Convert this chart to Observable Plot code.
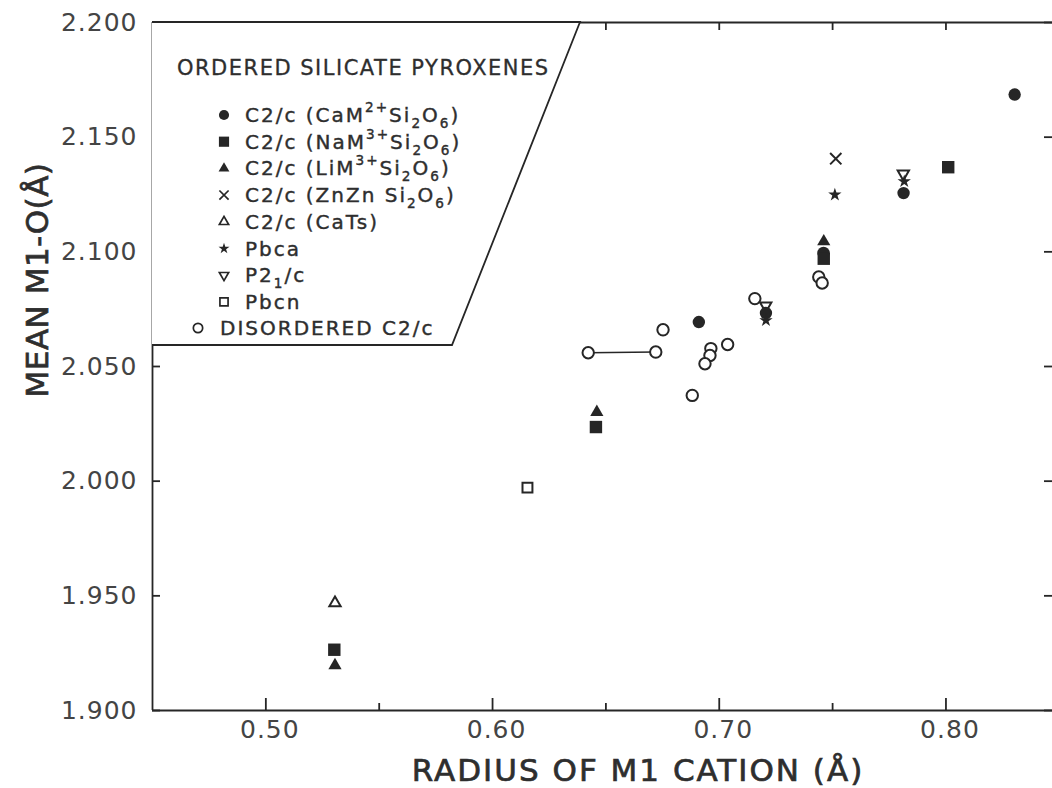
<!DOCTYPE html>
<html><head><meta charset="utf-8">
<script src="https://cdn.jsdelivr.net/npm/d3@7"></script>
<script src="https://cdn.jsdelivr.net/npm/@observablehq/plot@0.6"></script>
<style>
html,body{margin:0;padding:0;background:#fff;overflow:hidden;}
#chart svg{display:block;}
#chart [aria-label="x-axis tick label"] text{letter-spacing:1px;}
#chart [aria-label="y-axis tick label"] text{letter-spacing:1px;}
</style></head><body><div id="chart"></div>
<script>
// ---- axes ----
const xDomain = [0.45, 0.847];
const yDomain = [1.9, 2.2];
const xTickLabels = [0.50, 0.60, 0.70, 0.80];
const xTicksMinor = [0.55, 0.65, 0.75];
const xTicksAll = [0.50, 0.55, 0.60, 0.65, 0.70, 0.75, 0.80];
const yTickLabels = [1.900, 1.950, 2.000, 2.050, 2.100, 2.150, 2.200];
const xTitle = "RADIUS OF M1 CATION (Å)";
const yTitle = "MEAN M1-O(Å)";

// ---- series: [radius, mean M1-O] ----
const caM2Si2O6 = [[0.691,2.0694],[0.7206,2.0733],[0.746,2.0995],[0.7813,2.1256],[0.8303,2.1686]];
const naM3Si2O6 = [[0.5302,1.9265],[0.6456,2.0236],[0.7461,2.0970],[0.801,2.1369]];
const liM3Si2O6 = [[0.5305,1.9197],[0.646,2.0301],[0.7461,2.1045]];
const znZnSi2O6 = [[0.7514,2.1406]];
const caTs = [[0.5305,1.9469]];
const pbca = [[0.751,2.1249],[0.7816,2.1307],[0.7206,2.0701]];
const p21c = [[0.7812,2.1340],[0.7205,2.0765]];
const pbcn = [[0.6154,1.9972]];
const disorderedC2c = [[0.6422,2.0560],[0.672,2.0563],[0.6752,2.0660],[0.6963,2.0578],[0.6959,2.0548],
  [0.6937,2.0512],[0.7037,2.0596],[0.6881,2.0374],[0.7157,2.0796],[0.7439,2.0890],[0.7454,2.0864]];
const disorderedPair = [[0.6422,2.0560],[0.672,2.0563]];

// ---- legend ----
const legendTitle = "ORDERED SILICATE PYROXENES";
const legendLabels = ["C2/c (CaM^{2+}Si_{2}O_{6})","C2/c (NaM^{3+}Si_{2}O_{6})","C2/c (LiM^{3+}Si_{2}O_{6})",
  "C2/c (ZnZn Si_{2}O_{6})","C2/c (CaTs)","Pbca","P2_{1}/c","Pbcn","DISORDERED C2/c"];

const ink = "#262626";
const textInk = "#2e2e2e";
const tickInk = "#444";
const font = "DejaVu Sans";

const triangleDown = {
  draw(context, size) {
    const y = Math.sqrt(size / (Math.sqrt(3) * 3));
    context.moveTo(0, y * 2);
    context.lineTo(-Math.sqrt(3) * y, -y);
    context.lineTo(Math.sqrt(3) * y, -y);
    context.closePath();
  }
};

const styles = [
  {data: caM2Si2O6, symbol: "circle", fill: ink, stroke: "none", r: 6.2},
  {data: naM3Si2O6, symbol: "square", fill: ink, stroke: "none", r: 7},
  {data: liM3Si2O6, symbol: "triangle", fill: ink, stroke: "none", r: 4.9},
  {data: znZnSi2O6, symbol: "times", fill: "none", stroke: ink, r: 5.2},
  {data: caTs, symbol: "triangle", fill: "white", stroke: ink, r: 4.2},
  {data: pbca, symbol: "star", fill: ink, stroke: "none", r: 4.2},
  {data: p21c, symbol: triangleDown, fill: "white", stroke: ink, r: 4.2},
  {data: pbcn, symbol: "square", fill: "white", stroke: ink, r: 5.6},
  {data: disorderedC2c, symbol: "circle", fill: "white", stroke: ink, r: 5.7}
];
const drawOrder = [8, 6, 0, 1, 2, 3, 4, 5, 7];

function richText(sel, str, size) {
  const parts = str.match(/(\^\{[^}]*\}|_\{[^}]*\}|[^^_]+)/g);
  let prev = 0;
  for (const p of parts) {
    let t = p, dy = 0, fs = size;
    if (p[0] === "^") { t = p.slice(2, -1); dy = -0.5 * size; fs = 0.68 * size; }
    else if (p[0] === "_") { t = p.slice(2, -1); dy = 0.3 * size; fs = 0.68 * size; }
    sel.append("tspan").attr("dy", dy - prev).attr("font-size", fs).text(t);
    prev = dy;
  }
}

function overlay(index, scales, values, dims) {
  const g = d3.create("svg:g").attr("font-family", font).attr("fill", textInk)
    .attr("text-anchor", "start");
  const L = dims.marginLeft, T = dims.marginTop;
  // legend box (trapezoid)
  g.append("path")
    .attr("d", `M${L},${T}L580,${T}L452,345L${L},345`)
    .attr("fill", "white").attr("stroke", ink).attr("stroke-width", 1.8);
  g.append("text").attr("x", 177).attr("y", 75).attr("font-size", 21)
    .attr("letter-spacing", "1.5px").attr("stroke", textInk).attr("stroke-width", 0.3)
    .text(legendTitle);
  const rowY0 = 115, rowStep = 26.7;
  legendLabels.forEach((lab, i) => {
    const s = styles[i];
    const last = i === legendLabels.length - 1;
    const cy = last ? 328 : rowY0 + rowStep * i;
    const cx = last ? 198 : 224;
    const sym = typeof s.symbol === "string"
      ? d3["symbol" + s.symbol[0].toUpperCase() + s.symbol.slice(1)] : s.symbol;
    const rr = s.r * 0.82;
    g.append("path")
      .attr("transform", `translate(${cx},${cy})`)
      .attr("d", d3.symbol(sym, Math.PI * rr * rr)())
      .attr("fill", s.fill).attr("stroke", s.stroke).attr("stroke-width", 1.7);
    const t = g.append("text").attr("x", cx + (last ? 22 : 21)).attr("y", cy + 7)
      .attr("font-size", 20).attr("letter-spacing", "2px")
      .attr("stroke", textInk).attr("stroke-width", 0.4);
    richText(t, lab, 20);
  });
  // axis titles
  g.append("text").attr("x", 638).attr("y", 781).attr("text-anchor", "middle")
    .attr("font-size", 31).attr("letter-spacing", "2px")
    .attr("stroke", textInk).attr("stroke-width", 0.7).text(xTitle);
  g.append("text").attr("transform", "translate(48,280) rotate(-90)").attr("text-anchor", "middle")
    .attr("font-size", 31).attr("letter-spacing", "0.5px")
    .attr("stroke", textInk).attr("stroke-width", 0.7).text(yTitle);
  return g.node();
}

const dotMarks = drawOrder.map(i => {
  const s = styles[i];
  return Plot.dot(s.data, {x: d => d[0], y: d => d[1], symbol: () => s.symbol, r: s.r,
    fill: s.fill, stroke: s.stroke, strokeWidth: 2});
});

const lineW = 1.8;
const chart = Plot.plot({
  width: 1052, height: 788,
  marginLeft: 152, marginTop: 22, marginBottom: 78, marginRight: 0,
  style: {fontFamily: font, color: textInk, background: "white"},
  x: {domain: xDomain, axis: null},
  y: {domain: yDomain, axis: null},
  symbol: {type: "identity"},
  marks: [
    // frame lines
    Plot.ruleX([xDomain[0]], {stroke: ink, strokeWidth: lineW}),
    Plot.ruleY([yDomain[0]], {stroke: ink, strokeWidth: lineW}),
    Plot.ruleY([yDomain[1]], {stroke: ink, strokeWidth: lineW}),
    // inward ticks
    Plot.ruleX(xTickLabels, {x: d => d, y1: yDomain[0], y2: yDomain[0], insetTop: -12, stroke: ink, strokeWidth: lineW}),
    Plot.ruleX(xTicksMinor, {x: d => d, y1: yDomain[0], y2: yDomain[0], insetTop: -7, stroke: ink, strokeWidth: lineW}),
    Plot.ruleX(xTicksAll, {x: d => d, y1: yDomain[1], y2: yDomain[1], insetBottom: -8, stroke: ink, strokeWidth: lineW}),
    Plot.ruleY(yTickLabels, {y: d => d, x1: xDomain[0], x2: xDomain[0], insetRight: -8, stroke: ink, strokeWidth: lineW}),
    Plot.ruleY(yTickLabels, {y: d => d, x1: xDomain[1], x2: xDomain[1], insetLeft: -8, stroke: ink, strokeWidth: lineW}),
    // tick labels
    Plot.axisX(xTickLabels, {tickSize: 0, tickPadding: 10, tickFormat: d3.format(".2f"), label: null,
      fontSize: 25, dx: 4, fill: tickInk}),
    Plot.axisY(yTickLabels, {tickSize: 0, tickPadding: 15, tickFormat: d3.format(".3f"), label: null,
      fontSize: 25, fill: tickInk}),
    overlay,
    // data
    Plot.line(disorderedPair, {x: d => d[0], y: d => d[1], stroke: ink, strokeWidth: 1.6}),
    ...dotMarks
  ]
});
document.getElementById("chart").append(chart);
</script>
</body></html>
